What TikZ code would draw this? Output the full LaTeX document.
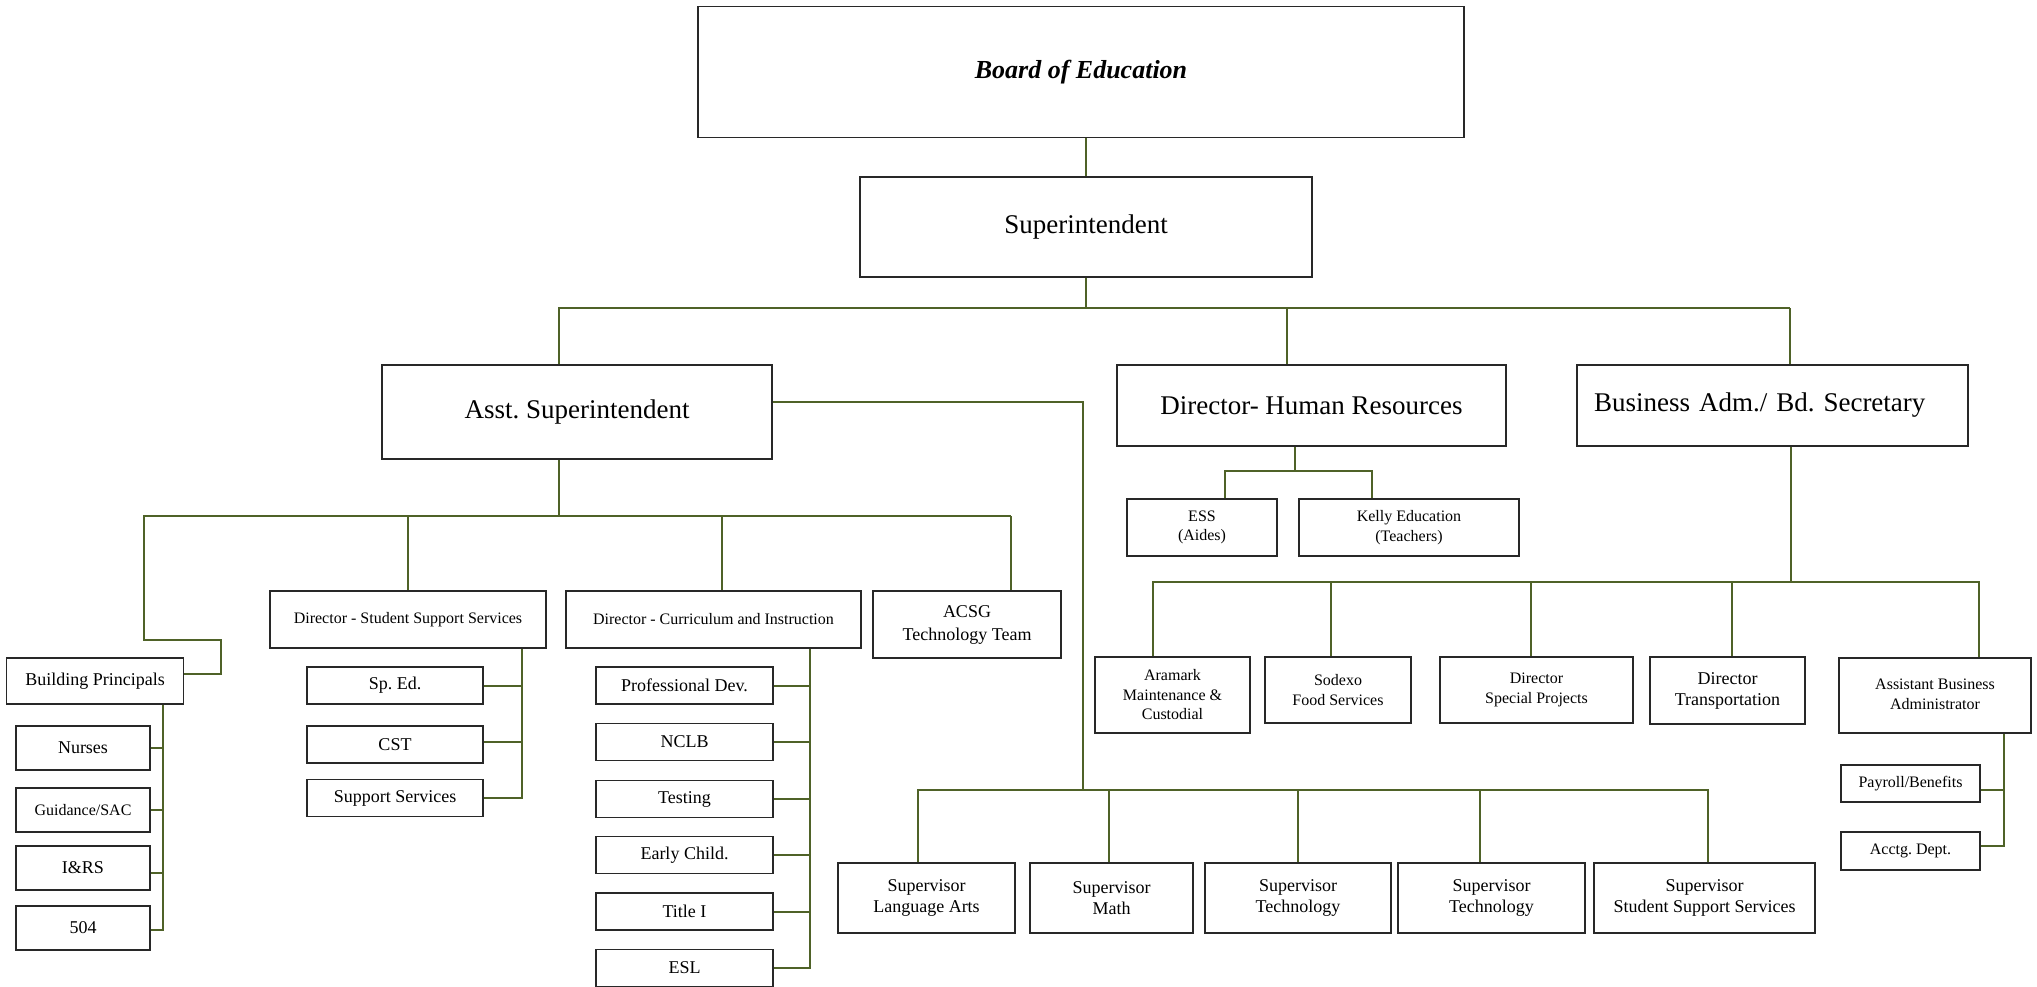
\documentclass[tikz,border=0pt]{standalone}
\usepackage{fontspec}
\setmainfont{Liberation Serif}
\frenchspacing
\definecolor{linkgreen}{RGB}{79,98,40}
\definecolor{boxgray}{RGB}{40,40,40}
\tikzset{
  box/.style={draw=boxgray, line width=1.8pt, inner sep=0pt, align=center},
  dims/.style 2 args={minimum width=#1pt, minimum height=#2pt},
  head/.style={box, font=\fontsize{27}{32}\selectfont},
  unit/.style={box, font=\fontsize{18}{21}\selectfont},
  note/.style={box, font=\fontsize{16}{19.5}\selectfont},
  link/.style={draw=linkgreen, line width=1.5pt}
}
\begin{document}
\begin{tikzpicture}[x=1pt, y=-1pt]
    \useasboundingbox (0,0) rectangle (2037,987);

    % Board and top level
    % ---------------------
    \node[box, dims={766}{131}, font=\fontsize{26}{30}\selectfont\bfseries\itshape] (board) at (1081,72) {Board of Education};
    \node[head, dims={452}{100}] (supt) at (1086,227) {Superintendent};
    \node[head, dims={390}{94}] (asst) at (577,412) {Asst. Superintendent};
    \node[head, dims={389}{81}] (hr) at (1311.5,405.5) {Director- Human Resources};
    \node[head, dims={391}{81}, text width=357pt, align=left] (bus) at (1772.5,405.5) {Business Adm./ Bd. Secretary};

    % Asst. Superintendent side
    % ---------------------
    \node[unit, dims={177}{46}] (bp) at (95,681) {Building Principals};
    \node[unit, dims={134}{44}] (nurses) at (83,748) {Nurses};
    \node[note, dims={134}{44}] (guid) at (83,810) {Guidance/SAC};
    \node[unit, dims={134}{44}] (irs) at (83,868) {I\&RS};
    \node[unit, dims={134}{44}] (five04) at (83,928) {504};

    \node[note, dims={276}{57}] (dsss) at (408,619.5) {Director - Student Support Services};
    \node[unit, dims={176}{37}] (sped) at (395,685.5) {Sp. Ed.};
    \node[unit, dims={176}{37}] (cst) at (395,744.5) {CST};
    \node[unit, dims={176}{37}] (supsvc) at (395,798) {Support Services};

    \node[note, dims={295}{57}] (dci) at (713.5,619.5) {Director - Curriculum and Instruction};
    \foreach \n/\y/\t in {profdev/685.5/Professional Dev., nclb/742/NCLB, testing/799/Testing, early/855/Early Child., title/911.5/Title I, esl/968/ESL}
        \node[unit, dims={177}{37}] (\n) at (684.5,\y) {\t};

    \node[unit, dims={188}{67}, font=\fontsize{18}{23}\selectfont] (acsg) at (967,624.5) {ACSG\\Technology Team};

    \node[unit, dims={177}{70}] (sla) at (926.5,898) {Supervisor\\Language Arts};
    \node[unit, dims={163}{70}] (smath) at (1111.5,898) {Supervisor\\Math};
    \node[unit, dims={186}{70}] (stech) at (1298,898) {Supervisor\\Technology};
    \node[unit, dims={187}{70}] (stechb) at (1491.5,898) {Supervisor\\Technology};
    \node[unit, dims={221}{70}] (ssss) at (1704.5,898) {Supervisor\\Student Support Services};

    % HR and business side
    % ---------------------
    \node[note, dims={150}{57}] (ess) at (1202,527.5) {ESS\\(Aides)};
    \node[note, dims={220}{57}] (kelly) at (1409,527.5) {Kelly Education\\(Teachers)};

    \node[note, dims={155}{76}] (aramark) at (1172.5,695) {Aramark\\Maintenance \&\\Custodial};
    \node[note, dims={146}{66}] (sodexo) at (1338,690) {Sodexo\\Food Services};
    \node[note, dims={193}{66}] (dsp) at (1536.5,690) {Director\\Special Projects};
    \node[unit, dims={155}{67}] (dtrans) at (1727.5,690.5) {Director\\Transportation};
    \node[note, dims={192}{75}] (aba) at (1935,695.5) {\raisebox{8pt}{\begin{tabular}{@{}c@{}}Assistant Business\\Administrator\end{tabular}}};
    \node[note, dims={139}{37}] (payroll) at (1910.5,783.5) {Payroll/Benefits};
    \node[note, dims={139}{38}] (acctg) at (1910.5,851) {Acctg. Dept.};

    % Top links
    % ---------------------
    \coordinate (topbar) at (1790,308);
    \draw[link] (supt.north) -- (supt.north |- board.south);
    \draw[link] (supt.south) -- (supt.south |- topbar);
    \draw[link] ([xshift=-18pt]asst.north) |- (topbar);
    \draw[link] ([xshift=-24.5pt]hr.north) |- (topbar);
    \draw[link] ([xshift=17.5pt]bus.north) -- (topbar);

    % Asst. Superintendent links
    % ---------------------
    \coordinate (asstbar) at (1011,516);
    \coordinate (bpbend) at (221,640);
    \coordinate (bpcorner) at (144,640);
    \draw[link] ([xshift=-18pt]asst.south) |- (asstbar);
    \draw[link] ([xshift=44pt]acsg.north) -- (asstbar);
    \draw[link] ([yshift=7pt]bp.east) -| (bpbend) -- (bpcorner) |- (asstbar);
    \draw[link] (dsss.north) |- (asstbar);
    \draw[link] ([xshift=8.5pt]dci.north) |- (asstbar);

    \draw[link] ([xshift=68pt]bp.south) |- ([yshift=-2pt]five04.east);
    \foreach \n/\s in {nurses/0, guid/0, irs/-5}
        \draw[link] ([yshift=\s pt]\n.east) -| ([xshift=68pt]bp.south);

    \draw[link] ([xshift=114pt]dsss.south) |- (supsvc.east);
    \foreach \n/\s in {sped/-0.5, cst/2.5}
        \draw[link] ([yshift=\s pt]\n.east) -| ([xshift=114pt]dsss.south);

    \draw[link] ([xshift=96.5pt]dci.south) |- (esl.east);
    \foreach \n/\s in {profdev/-0.5, nclb/0, testing/0, early/0, title/-0.5}
        \draw[link] ([yshift=\s pt]\n.east) -| ([xshift=96.5pt]dci.south);

    \coordinate (supjoin) at (1083,790);
    \coordinate (supbar) at (1708,790);
    \draw[link] ([yshift=10pt]asst.east) -| (supjoin);
    \draw[link] ([xshift=-8.5pt]sla.north) |- (supbar) -- ([xshift=3.5pt]ssss.north);
    \foreach \n/\s in {smath/-2.5, stech/0, stechb/-11.5}
        \draw[link] ([xshift=\s pt]\n.north) |- (supbar);

    % HR and business links
    % ---------------------
    \coordinate (hrbar) at (1372,471);
    \draw[link] ([xshift=-16.5pt]hr.south) |- (hrbar);
    \draw[link] ([xshift=23pt]ess.north) |- (hrbar) -- ([xshift=-37pt]kelly.north);

    \coordinate (busbar) at (1979,582);
    \draw[link] ([xshift=18.5pt]bus.south) |- (busbar);
    \draw[link] ([xshift=-19.5pt]aramark.north) |- (busbar) -- ([xshift=44pt]aba.north);
    \foreach \n/\s in {sodexo/-7, dsp/-5.5, dtrans/4.5}
        \draw[link] ([xshift=\s pt]\n.north) |- (busbar);
    \draw[link] ([xshift=69pt]aba.south) |- ([yshift=5pt]acctg.east);
    \draw[link] ([yshift=-6.5pt]payroll.east) -| ([xshift=69pt]aba.south);
\end{tikzpicture}
\end{document}
